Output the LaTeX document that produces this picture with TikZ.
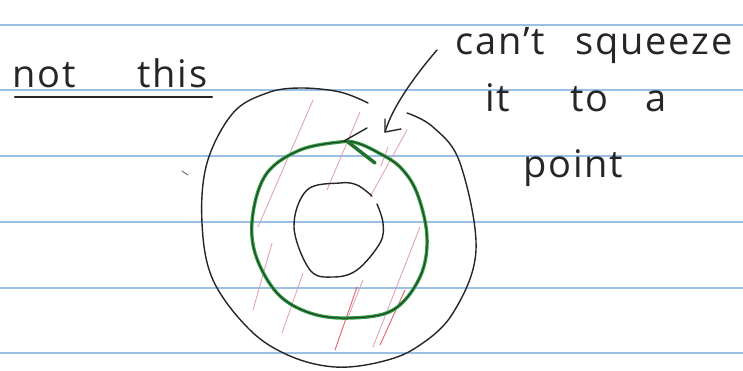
\documentclass[tikz,border=0pt]{standalone}
\usepackage{fontspec}
\setmainfont{Open Sans}[LetterSpace=5]
\definecolor{ink}{RGB}{38,38,38}
\definecolor{rulecol}{RGB}{155,192,228}
\definecolor{pen}{RGB}{45,160,65}
\definecolor{pinkish}{RGB}{222,150,168}
\definecolor{redpen}{RGB}{225,55,75}
\begin{document}
\begin{tikzpicture}[x=1pt,y=-1pt,
  inkline/.style={draw=ink,line width=1.4pt,line cap=round,line join=round},
  hatch/.style={draw=pinkish,line width=0.9pt,line cap=round,opacity=0.85},
  redhatch/.style={draw=redpen,line width=0.9pt,line cap=round,opacity=0.8},
  ruled/.style={draw=rulecol,line width=1.1pt},
  hand/.style={text=ink,font=\fontsize{38}{38}\selectfont,inner sep=0pt,anchor=base west}]
\useasboundingbox (0,0) rectangle (743,370);
\fill[white] (0,0) rectangle (743,370);
% ruled paper
\foreach \yy in {25,90,156,222,288,353} \draw[ruled] (0,\yy) -- (743,\yy);
% hatching
\draw[hatch] (313,100) -- (258,227);
\draw[hatch] (360,112) -- (327,190);
\draw[hatch] (407,130) -- (370,197);
\draw[hatch] (420,227) -- (373,347);
\draw[hatch] (272,243) -- (253,310);
\draw[hatch] (303,273) -- (282,333);
\draw[hatch] (363,280) -- (347,320);
\draw[hatch] (388,147) -- (381,166);
\draw[redhatch] (357,287) -- (335,350);
\draw[redhatch] (405,290) -- (380,345);
% outer loop (open at the top right)
\draw[inkline] plot[smooth,tension=0.6] coordinates {(368,103) (340,92) (300,88) (267,93) (233,113) (207,163) (202,223) (213,280) (250,330) (290,356) (335,367) (380,362) (417,347) (453,313) (476,250) (460,163) (433,127) (407,113)};
% green loop drawn over black
\draw[draw=pen,line width=3.4pt,line cap=round,line join=round] plot[smooth cycle,tension=0.6] coordinates {(340,142) (300,150) (267,173) (253,213) (255,253) (277,293) (310,313) (350,318) (393,310) (420,277) (427,237) (417,193) (400,167) (377,152) (357,143)};
\draw[draw=ink,line width=1.1pt,opacity=0.8] plot[smooth cycle,tension=0.6] coordinates {(340,142) (300,150) (267,173) (253,213) (255,253) (277,293) (310,313) (350,318) (393,310) (420,277) (427,237) (417,193) (400,167) (377,152) (357,143)};
\draw[inkline] (367,128) -- (344,141);
\draw[draw=pen!70!black,line width=3.5pt,line cap=round] (348,142) -- (375,163);
% inner loop
\draw[inkline] plot[smooth,tension=0.6] coordinates {(372,196) (357,185) (340,183) (307,190) (294,227) (310,270) (333,277) (357,270) (380,243) (383,223) (377,204)};
% stray marks
\draw[draw=ink!70,line width=0.9pt,line cap=round] (182,171) -- (188,175);
% labels
\node[hand] (notthis1) at (12,87) {not};
\node[hand] (notthis2) at (137,87) {this};
\draw[draw=ink,line width=2.2pt,line cap=round] (15,97) -- (212,97);
\node[hand] (c1) at (455,54) {can't};
\node[hand] (c2) at (575,54) {squeeze};
\node[hand] (c3) at (485,111) {it};
\node[hand] (c4) at (570,111) {to};
\node[hand] (c5) at (645,111) {a};
\node[hand] (c6) at (523,177) {point};
% arrow
\coordinate (as) at (437,50);
\coordinate (ae) at (385,132);
\draw[inkline] (as) .. controls (418,72) and (393,105) .. (ae);
\draw[inkline] (385,119) -- (ae) -- (401,129);
\end{tikzpicture}
\end{document}
